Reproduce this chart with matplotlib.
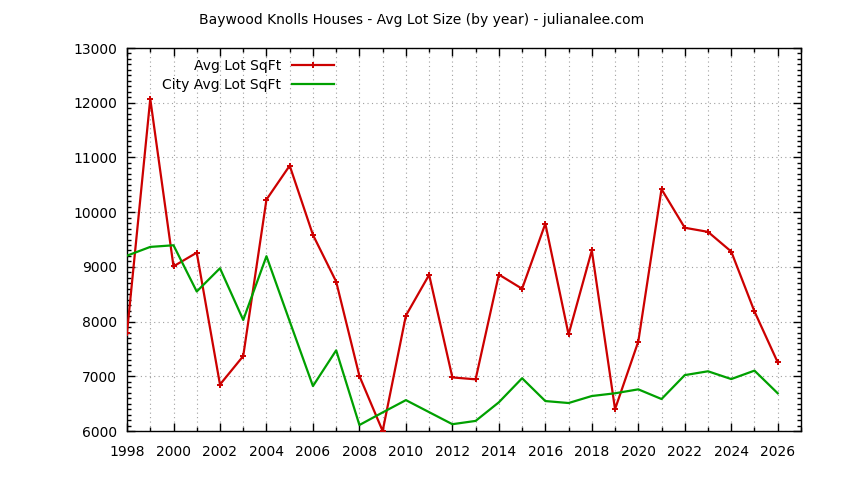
import numpy as np
import matplotlib
matplotlib.use("Agg")
import matplotlib.pyplot as plt
from matplotlib.ticker import MultipleLocator

# ------------------------------------------------------------
# data
years = list(range(1998, 2027))

avg_lot = [7800, 12070, 9010, 9260, 6850, 7370, 10230, 10850, 9585, 8730,
           7005, 6000, 8110, 8855, 6980, 6945, 8860, 8600, 9790, 7765,
           9300, 6400, 7635, 10420, 9715, 9640, 9280, 8185, 7255]

city_avg_lot = [9205, 9365, 9395, 8550, 8975, 8030, 9195, 8005, 6822, 7475,
                6110, 6340, 6565, 6345, 6125, 6185, 6525, 6965, 6548, 6512,
                6640, 6690, 6762, 6585, 7022, 7092, 6950, 7104, 6690]

title = "Baywood Knolls Houses - Avg Lot Size (by year) - julianalee.com"

# ------------------------------------------------------------
# set up figure
fig = plt.figure(figsize=(8.44, 4.8), dpi=100)
fig.subplots_adjust(left=0.1505, right=0.949, bottom=0.102, top=0.9)
ax = fig.add_subplot(111)

ax.plot(years, avg_lot, color='#cc0000', lw=1.6, marker='+', ms=4, mew=1.4,
        label='Avg Lot SqFt', zorder=3)
ax.plot(years, city_avg_lot, color='#00a000', lw=1.6,
        label='City Avg Lot SqFt', zorder=3)

ax.set_xlim(1998, 2027)
ax.set_ylim(6000, 13000)

ax.xaxis.set_major_locator(MultipleLocator(2))
ax.xaxis.set_minor_locator(MultipleLocator(1))
ax.yaxis.set_major_locator(MultipleLocator(1000))
ax.yaxis.set_minor_locator(MultipleLocator(100))

ax.tick_params(which='both', direction='in', top=True, right=True,
               labelsize=10, colors='black')
ax.tick_params(which='major', length=6, width=1)
ax.tick_params(which='minor', length=3, width=1)
ax.tick_params(axis='x', which='major', pad=10)
ax.tick_params(axis='y', which='major', pad=7)

ax.grid(which='major', axis='y', color='#a0a0a0', ls=(0, (1, 3)), lw=0.8)
ax.grid(which='both', axis='x', color='#a0a0a0', ls=(0, (1, 3)), lw=0.8)

for s in ax.spines.values():
    s.set_linewidth(1.0)

fig.suptitle(title, fontsize=10, y=0.972)

leg = ax.legend(loc='upper left', bbox_to_anchor=(0.033, 1.003),
                frameon=False, markerfirst=False, fontsize=10,
                handlelength=3.0, labelspacing=0.35, handletextpad=0.8)

fig.savefig('out.png', dpi=100)
